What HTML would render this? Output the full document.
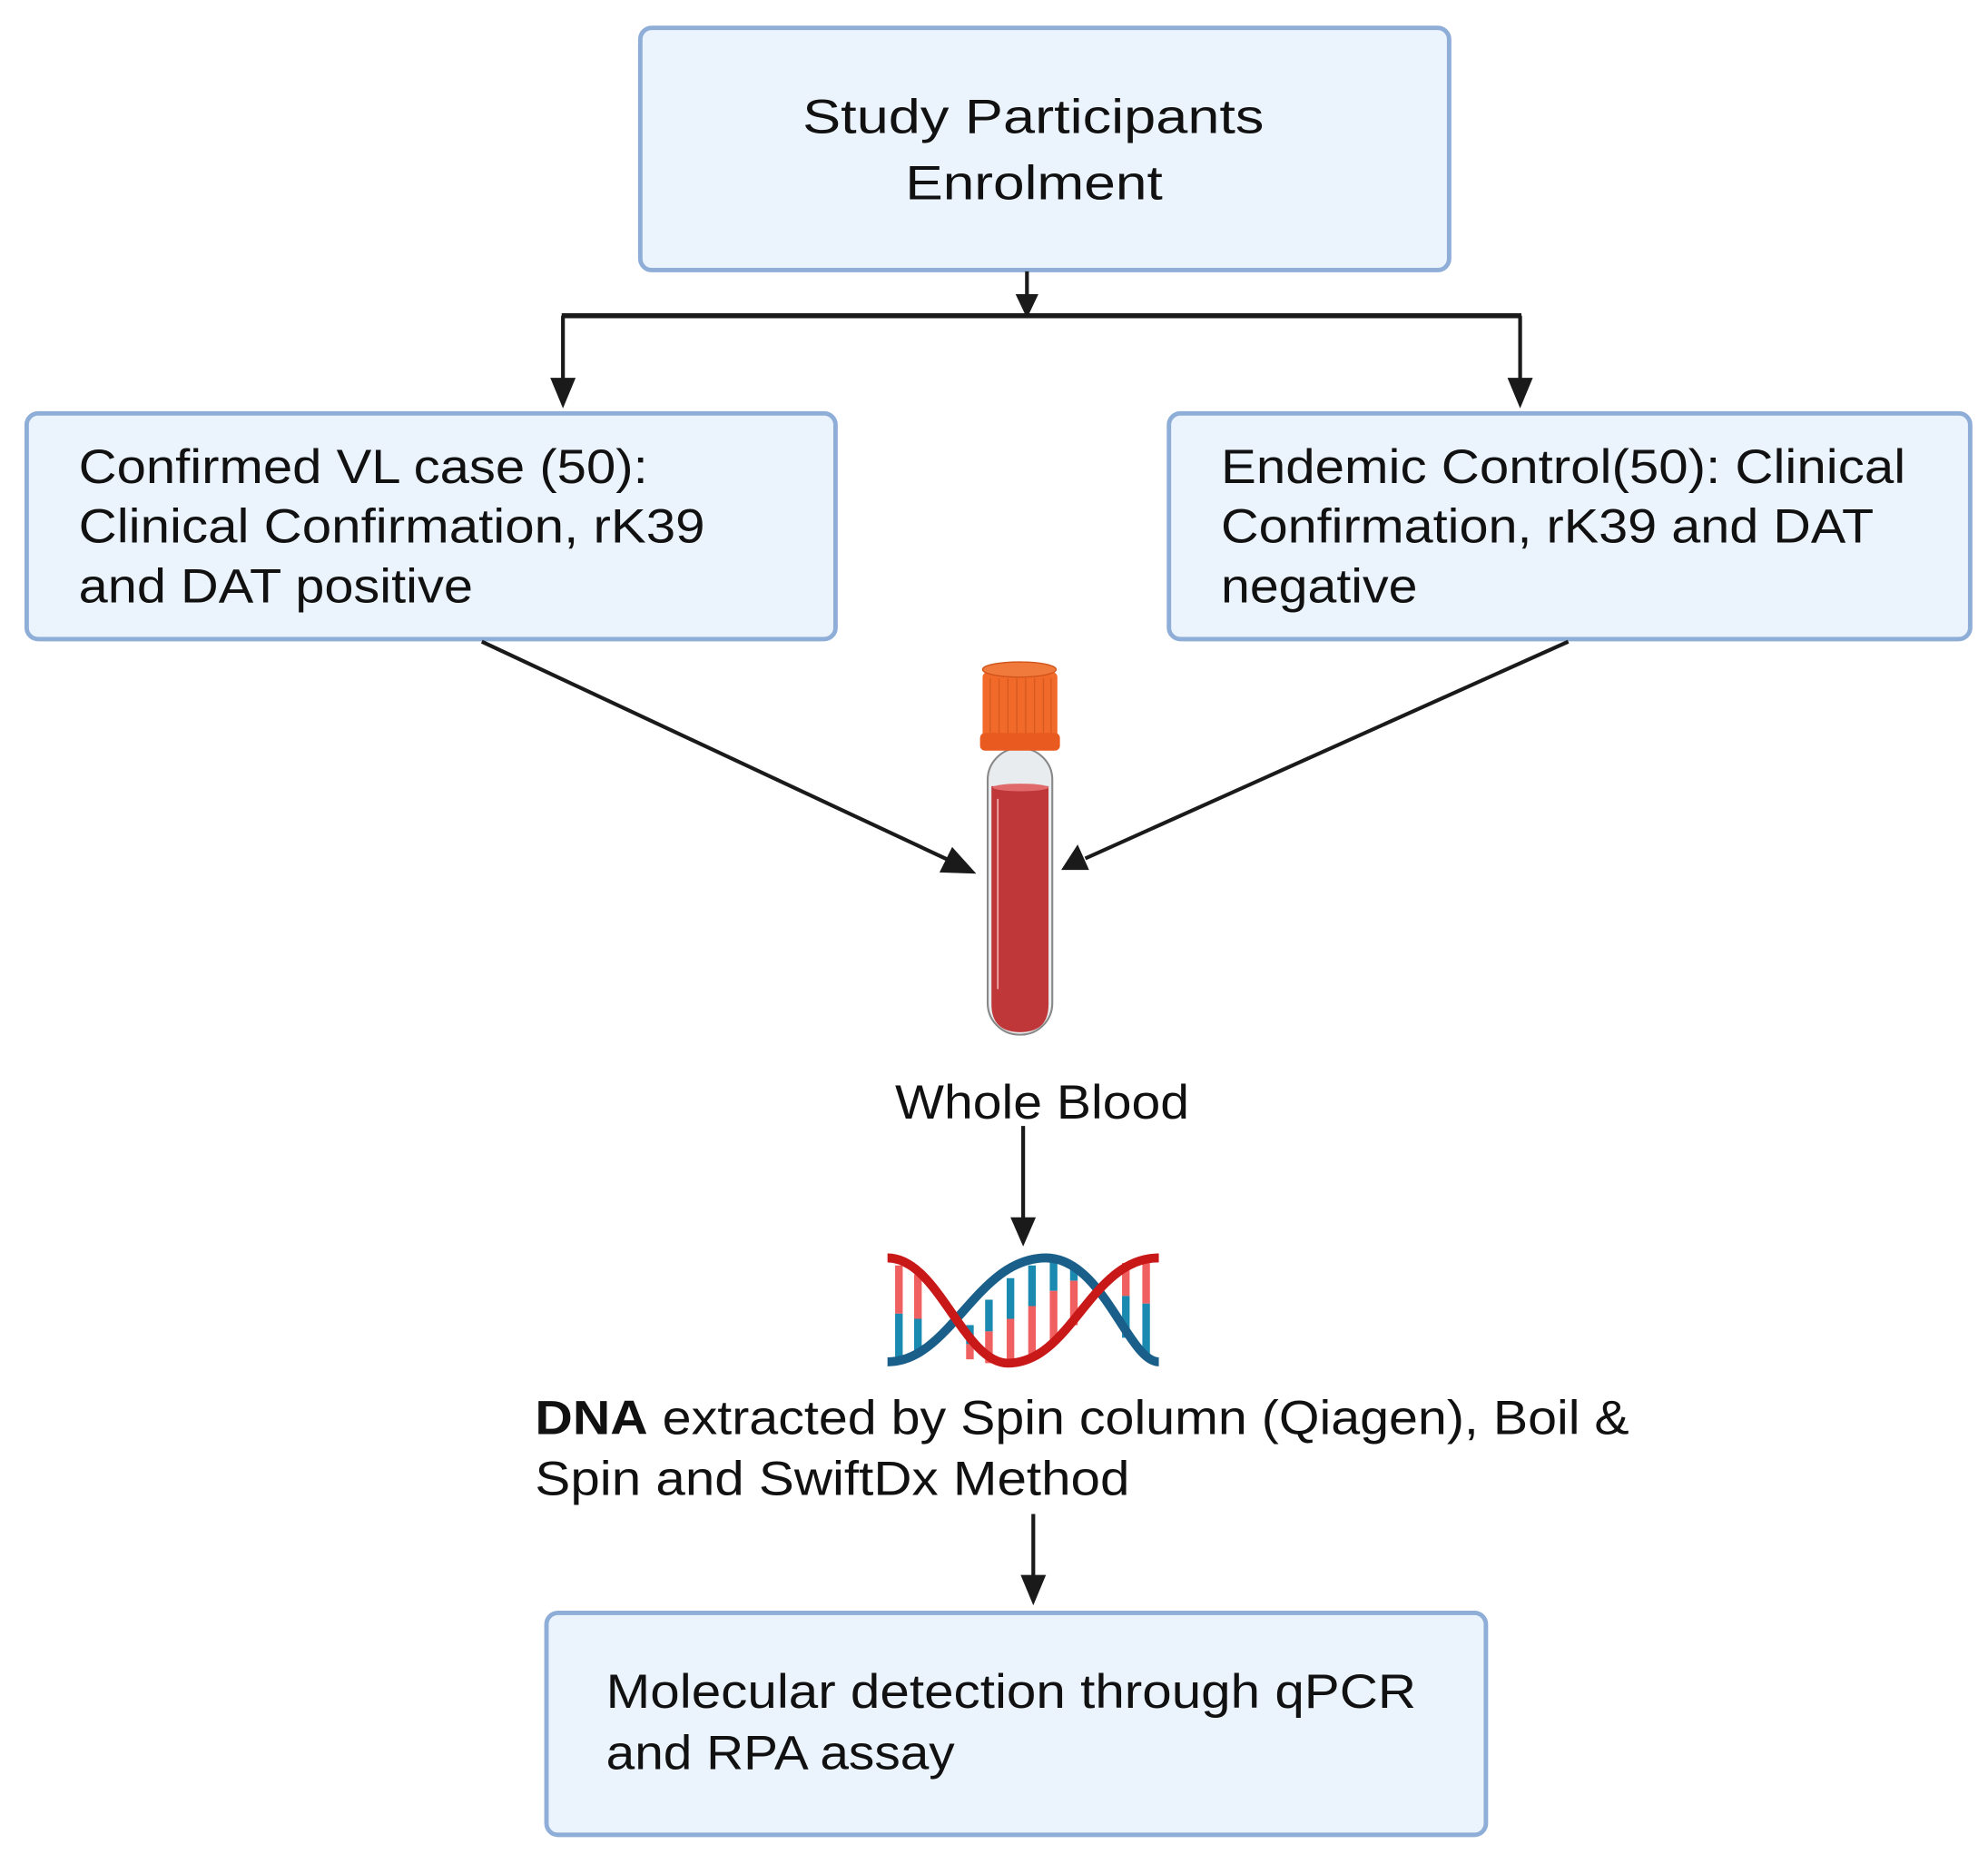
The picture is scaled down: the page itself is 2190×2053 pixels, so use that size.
<!DOCTYPE html>
<html><head><meta charset="utf-8"><style>html,body{margin:0;padding:0;background:#fff}svg{display:block}</style></head>
<body>
<svg width="2190" height="2053" viewBox="0 0 1568 1470" xmlns="http://www.w3.org/2000/svg" font-family="'Liberation Sans', sans-serif" font-size="38" fill="#111">
<defs>
<marker id="ah" viewBox="0 0 10 10" refX="9" refY="5" markerWidth="6" markerHeight="6" markerUnits="userSpaceOnUse" orient="auto"><path d="M0,0 L10,5 L0,10 z" fill="#1a1a1a"/></marker>
</defs>
<g fill="#ebf3fc" stroke="#8eaed8" stroke-width="3.5">
<rect x="505" y="22" width="638" height="191" rx="9"/>
<rect x="21" y="326" width="638" height="178" rx="9"/>
<rect x="922" y="326" width="632" height="178" rx="9"/>
<rect x="431" y="1272" width="741" height="175" rx="9"/>
</g>
<g stroke="#1a1a1a" stroke-width="3" fill="none">
<line x1="810" y1="214" x2="810" y2="236"/>
<path d="M801,232 L819,232 L810,251 z" fill="#1a1a1a" stroke="none"/>
<line x1="443" y1="249" x2="1200" y2="249" stroke-width="4"/>
<line x1="444" y1="249" x2="444" y2="302"/>
<path d="M434,298 L454,298 L444,322 z" fill="#1a1a1a" stroke="none"/>
<line x1="1199" y1="249" x2="1199" y2="302"/>
<path d="M1189,298 L1209,298 L1199,322 z" fill="#1a1a1a" stroke="none"/>
<line x1="380" y1="506" x2="752" y2="680"/>
<path d="M770,689 L741,688 L751,668 z" fill="#1a1a1a" stroke="none"/>
<line x1="1237" y1="506" x2="856" y2="677"/>
<path d="M837,686 L850,666 L859,686 z" fill="#1a1a1a" stroke="none"/>
<line x1="807" y1="888" x2="807" y2="962"/>
<path d="M797,960 L817,960 L807,983 z" fill="#1a1a1a" stroke="none"/>
<line x1="815" y1="1194" x2="815" y2="1244"/>
<path d="M805,1242 L825,1242 L815,1266 z" fill="#1a1a1a" stroke="none"/>
</g>
<!-- tube -->
<rect x="779" y="590" width="51" height="226" rx="25" fill="#e9ecee" stroke="#888" stroke-width="1.5"/>
<path d="M782,620 L827,620 L827,792 Q827,814 805,814 Q782,814 782,792 z" fill="#c0373a"/>
<ellipse cx="805" cy="621" rx="22" ry="3" fill="#e06a6a"/>
<line x1="787" y1="630" x2="787" y2="780" stroke="#f3b0b0" stroke-width="1.2"/>
<rect x="775" y="530" width="59" height="54" rx="4" fill="#f26a2a"/>
<rect x="773" y="578" width="63" height="14" rx="4" fill="#e85a1f"/>
<ellipse cx="804" cy="528" rx="29" ry="6" fill="#f07a3c" stroke="#d0541b"/>
<g stroke="#d65a1f" stroke-width="1">
<line x1="781" y1="535" x2="781" y2="578"/><line x1="788" y1="535" x2="788" y2="578"/><line x1="795" y1="535" x2="795" y2="578"/><line x1="802" y1="535" x2="802" y2="578"/><line x1="809" y1="535" x2="809" y2="578"/><line x1="816" y1="535" x2="816" y2="578"/><line x1="823" y1="535" x2="823" y2="578"/><line x1="829" y1="535" x2="829" y2="578"/>
</g>
<!-- DNA -->
<g stroke-width="6">
<g>
<line x1="709" y1="998" x2="709" y2="1036" stroke="#f06060"/><line x1="709" y1="1036" x2="709" y2="1070" stroke="#1a8ab0"/>
<line x1="724" y1="1005" x2="724" y2="1040" stroke="#f06060"/><line x1="724" y1="1040" x2="724" y2="1065" stroke="#1a8ab0"/>
<line x1="765" y1="1045" x2="765" y2="1060" stroke="#1a8ab0"/><line x1="765" y1="1060" x2="765" y2="1072" stroke="#f06060"/>
<line x1="780" y1="1025" x2="780" y2="1050" stroke="#1a8ab0"/><line x1="780" y1="1050" x2="780" y2="1075" stroke="#f06060"/>
<line x1="797" y1="1008" x2="797" y2="1040" stroke="#1a8ab0"/><line x1="797" y1="1040" x2="797" y2="1073" stroke="#f06060"/>
<line x1="814" y1="998" x2="814" y2="1030" stroke="#1a8ab0"/><line x1="814" y1="1030" x2="814" y2="1068" stroke="#f06060"/>
<line x1="831" y1="994" x2="831" y2="1018" stroke="#1a8ab0"/><line x1="831" y1="1018" x2="831" y2="1058" stroke="#f06060"/>
<line x1="847" y1="997" x2="847" y2="1010" stroke="#1a8ab0"/><line x1="847" y1="1010" x2="847" y2="1045" stroke="#f06060"/>
<line x1="888" y1="996" x2="888" y2="1022" stroke="#f06060"/><line x1="888" y1="1022" x2="888" y2="1055" stroke="#1a8ab0"/>
<line x1="904" y1="993" x2="904" y2="1028" stroke="#f06060"/><line x1="904" y1="1028" x2="904" y2="1068" stroke="#1a8ab0"/>
</g>
<path d="M700,1074 C750,1074 770,992 825,992 C870,992 890,1074 914,1074" fill="none" stroke="#1a5f8a" stroke-width="7"/>
<path d="M700,992 C740,992 760,1075 795,1075 C845,1075 860,992 914,992" fill="none" stroke="#c81818" stroke-width="7"/>
</g>
<!-- text -->
<text x="633" y="105" textLength="364" lengthAdjust="spacingAndGlyphs">Study Participants</text>
<text x="714" y="157" textLength="203" lengthAdjust="spacingAndGlyphs">Enrolment</text>
<text x="62" y="381" textLength="449" lengthAdjust="spacingAndGlyphs">Confirmed VL case (50):</text>
<text x="62" y="428" textLength="494" lengthAdjust="spacingAndGlyphs">Clinical Confirmation, rK39</text>
<text x="62" y="475" textLength="311" lengthAdjust="spacingAndGlyphs">and DAT positive</text>
<text x="963" y="381" textLength="540" lengthAdjust="spacingAndGlyphs">Endemic Control(50): Clinical</text>
<text x="963" y="428" textLength="515" lengthAdjust="spacingAndGlyphs">Confirmation, rK39 and DAT</text>
<text x="963" y="475" textLength="155" lengthAdjust="spacingAndGlyphs">negative</text>
<text x="706" y="882" textLength="232" lengthAdjust="spacingAndGlyphs">Whole Blood</text>
<text x="422" y="1131" textLength="863" lengthAdjust="spacingAndGlyphs"><tspan font-weight="bold">DNA</tspan> extracted by Spin column (Qiagen), Boil &amp;</text>
<text x="422" y="1179" textLength="469" lengthAdjust="spacingAndGlyphs">Spin and SwiftDx Method</text>
<text x="478" y="1347" textLength="639" lengthAdjust="spacingAndGlyphs">Molecular detection through qPCR</text>
<text x="478" y="1395" textLength="275" lengthAdjust="spacingAndGlyphs">and RPA assay</text>
</svg>
</body></html>
